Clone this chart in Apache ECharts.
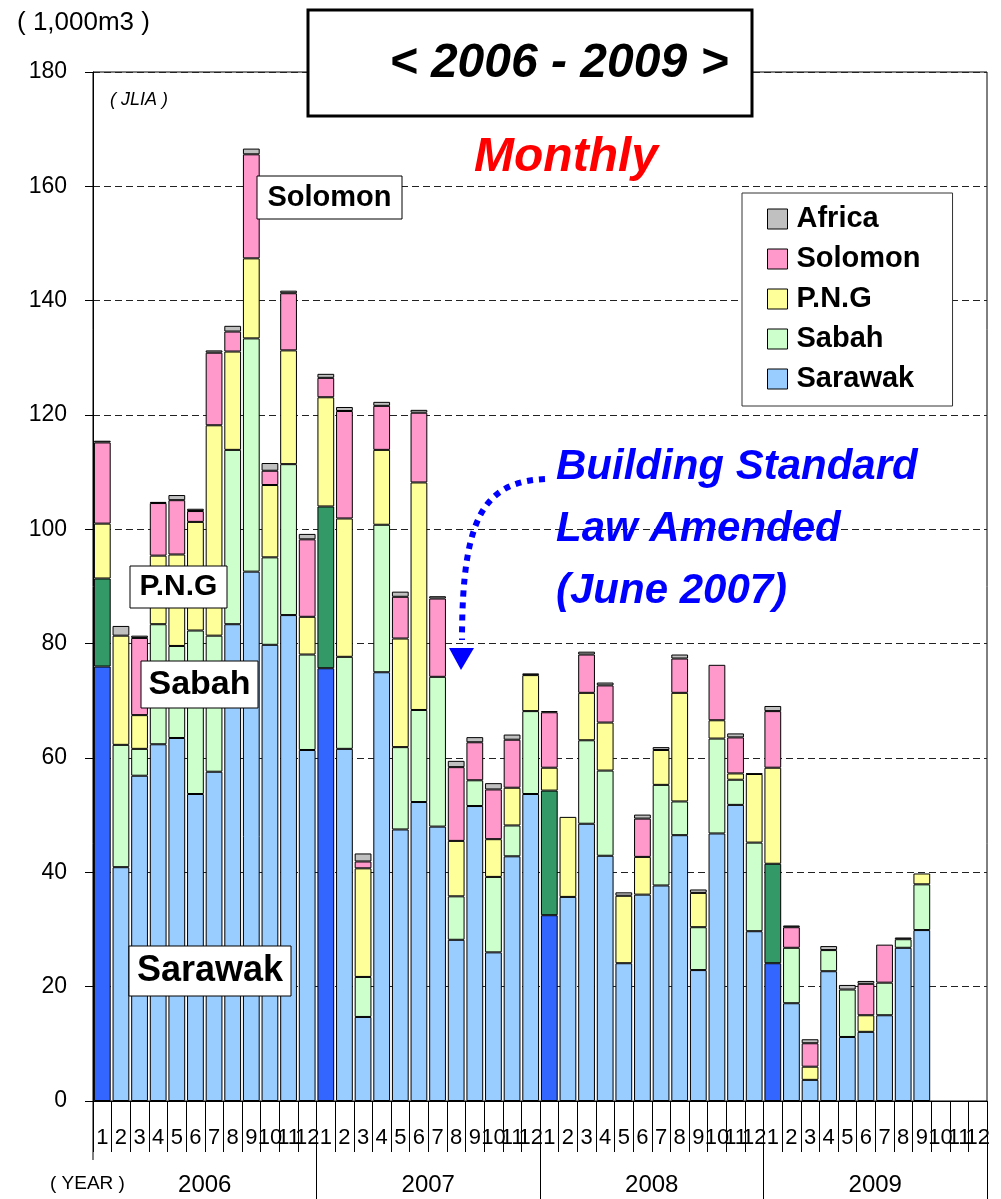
<!DOCTYPE html>
<html>
<head>
<meta charset="utf-8">
<title>Log imports 2006-2009</title>
<script src="https://cdn.jsdelivr.net/npm/echarts@6/dist/echarts.min.js"></script>
<style>
html, body { margin: 0; padding: 0; background: #fff; }
#chart { width: 1001px; height: 1199px; }
</style>
</head>
<body>
<div id="chart"></div>
<script>
// monthly log imports (1,000m3), JLIA
var years = ['2006', '2007', '2008', '2009'];
var monthLabels = ['1', '2', '3', '4', '5', '6', '7', '8', '9', '10', '11', '12'];

var sarawak = [76, 40.9, 56.9, 62.4, 63.5, 53.7, 57.6, 83.4, 92.6, 79.8, 85, 61.4,
    75.7, 61.6, 14.7, 75, 47.5, 52.3, 48, 28.2, 51.6, 26, 42.8, 53.7,
    32.5, 35.7, 48.5, 42.9, 24.1, 36.1, 37.7, 46.5, 22.9, 46.8, 51.8, 29.7,
    24.1, 17.1, 3.7, 22.7, 11.2, 12.1, 15, 26.8, 29.9, null, null, null];
var sabah = [15.4, 21.4, 4.7, 21, 16.1, 28.6, 23.8, 30.5, 40.8, 15.3, 26.4, 16.7,
    28.3, 16.1, 7, 25.8, 14.4, 16.1, 26.2, 7.6, 4.5, 13.2, 5.4, 14.5,
    21.8, 0, 14.6, 14.9, 0, 0, 17.6, 5.9, 7.5, 16.6, 4.4, 15.5,
    17.4, 9.7, 0, 3.7, 8.3, 0, 5.7, 1.5, 8, null, null, null];
var png = [9.6, 19.1, 5.9, 12, 16, 19, 36.8, 17.2, 14, 12.65, 19.9, 6.6,
    19.1, 24.2, 19, 13.1, 19, 39.8, 0, 9.7, 0, 6.6, 6.6, 6.3,
    4, 14, 8.3, 8.4, 11.8, 6.6, 6.1, 19, 6, 3.2, 1.1, 12,
    16.8, 0, 2.3, 0, 0, 2.9, 0, 0, 1.9, null, null, null];
var solomon = [14.2, 0, 13.5, 9.2, 9.5, 1.9, 12.7, 3.5, 18.2, 2.5, 10, 13.55,
    3.4, 18.8, 1.2, 7.7, 7.3, 12.2, 13.7, 12.9, 6.65, 8.7, 8.4, 0,
    9.7, 0, 6.7, 6.5, 0, 6.7, 0, 6, 0, 9.7, 6.3, 0,
    9.9, 3.6, 4.1, 0, 0, 5.5, 6.65, 0, 0, null, null, null];
var africa = [0.3, 1.7, 0.4, 0.2, 0.9, 0.4, 0.4, 1, 1, 1.35, 0.45, 0.95,
    0.7, 0.7, 1.4, 0.7, 0.9, 0.5, 0.4, 1.1, 0.9, 1.1, 0.9, 0.3,
    0.2, 0, 0.5, 0.5, 0.6, 0.7, 0.5, 0.7, 0.6, 0, 0.7, 0.1,
    0.9, 0.3, 0.7, 0.7, 0.8, 0.5, 0, 0.3, 0, null, null, null];

var FONT = "'Liberation Sans', Arial, sans-serif";

// category names like 2006-1, shown as month number only
var categories = [];
years.forEach(function (y) {
    monthLabels.forEach(function (m) { categories.push(y + '-' + m); });
});

// January bars get the darker colours
function buildData(values, janColor) {
    return values.map(function (v, i) {
        var val = (v === 0 || v === null) ? '-' : v;
        if (janColor && i % 12 === 0) {
            return { value: val, itemStyle: { color: janColor } };
        }
        return val;
    });
}

function barSeries(name, values, color, janColor) {
    return {
        name: name,
        type: 'bar',
        stack: 'total',
        xAxisIndex: 0,
        barCategoryGap: '10%',
        data: buildData(values, janColor),
        itemStyle: { color: color, borderColor: '#000', borderWidth: 1 }
    };
}

function labelBox(text, x, y, w, h, size) {
    return {
        type: 'group',
        z: 100,
        children: [
            { type: 'rect', z: 100, shape: { x: x, y: y, width: w, height: h },
              style: { fill: '#fff', stroke: '#000', lineWidth: 1 } },
            { type: 'text', z: 101, x: x + w / 2, y: y + h / 2,
              style: { text: text, fill: '#000', font: 'bold ' + size + 'px ' + FONT,
                       textAlign: 'center', textVerticalAlign: 'middle' } }
        ]
    };
}

var chart = echarts.init(document.getElementById('chart'));

var option = {
    animation: false,
    backgroundColor: '#fff',
    textStyle: { fontFamily: FONT },
    grid: {
        left: 93, right: 14, top: 72, bottom: 98,
        show: true, borderColor: '#000', borderWidth: 1,
        containLabel: false, outerBoundsMode: 'none'
    },
    legend: {
        orient: 'vertical',
        left: 742, top: 193,
        data: ['Africa', 'Solomon', 'P.N.G', 'Sabah', 'Sarawak'],
        backgroundColor: '#fff',
        borderColor: '#333',
        borderWidth: 1,
        padding: [11, 32, 12, 25],
        itemWidth: 20,
        itemHeight: 20,
        itemGap: 10,
        icon: 'rect',
        itemStyle: { borderColor: '#000', borderWidth: 1 },
        textStyle: { fontSize: 29, fontWeight: 'bold', color: '#000', lineHeight: 30,
                     padding: [0, 0, 0, 4], fontFamily: FONT },
        selectedMode: false,
        z: 50
    },
    xAxis: [{
        type: 'category',
        data: categories,
        position: 'bottom',
        axisLine: { lineStyle: { color: '#000', width: 1 } },
        axisTick: { show: true, interval: 0, length: 51, lineStyle: { color: '#000' } },
        axisLabel: {
            interval: 0, margin: 26, fontSize: 22, color: '#000', fontFamily: FONT,
            formatter: function (v) { return v.split('-')[1]; }
        },
        splitLine: { show: false }
    }, {
        type: 'category',
        data: years,
        position: 'bottom',
        axisLine: { lineStyle: { color: '#000', width: 1 } },
        // no long line at the very left edge
        axisTick: { show: true, length: 98, lineStyle: { color: '#000' },
                    interval: function (idx) { return idx !== 0; } },
        axisLabel: { interval: 0, margin: 72, fontSize: 24, color: '#000', fontFamily: FONT },
        splitLine: { show: false }
    }],
    yAxis: {
        type: 'value',
        min: 0, max: 180, interval: 20,
        axisLine: { show: true, lineStyle: { color: '#000', width: 1 } },
        axisTick: { show: true, length: 8, lineStyle: { color: '#000' } },
        axisLabel: { margin: 26, fontSize: 23, color: '#000', fontFamily: FONT },
        splitLine: { show: true, lineStyle: { color: '#222', type: [7, 4], width: 1 } }
    },
    series: [
        barSeries('Sarawak', sarawak, '#99CCFF', '#3366FF'),
        barSeries('Sabah', sabah, '#CCFFCC', '#339966'),
        barSeries('P.N.G', png, '#FFFF99'),
        barSeries('Solomon', solomon, '#FF99CC'),
        barSeries('Africa', africa, '#C0C0C0')
    ],
    graphic: [
        { type: 'text', left: 17, top: 10, z: 100,
          style: { text: '( 1,000m3 )', fill: '#000', font: '26px ' + FONT } },
        { type: 'text', left: 110, top: 91, z: 100,
          style: { text: '( JLIA )', fill: '#000', font: 'italic 18px ' + FONT } },
        { type: 'text', left: 50, top: 1174, z: 100,
          style: { text: '( YEAR )', fill: '#000', font: '19px ' + FONT } },
        { type: 'line', z: 100, shape: { x1: 93, y1: 1101, x2: 93, y2: 1160 },
          style: { stroke: '#000', lineWidth: 1 } },
        // title box
        { type: 'rect', z: 100, shape: { x: 308, y: 10, width: 444, height: 106 },
          style: { fill: '#fff', stroke: '#000', lineWidth: 3 } },
        { type: 'text', z: 101, x: 559, y: 64,
          style: { text: '< 2006 - 2009 >', fill: '#000', font: 'italic bold 48px ' + FONT,
                   textAlign: 'center', textVerticalAlign: 'middle' } },
        { type: 'text', z: 100, x: 566, y: 158,
          style: { text: 'Monthly', fill: '#FF0000', font: 'italic bold 48px ' + FONT,
                   textAlign: 'center', textVerticalAlign: 'middle' } },
        // series labels inside the plot
        labelBox('Solomon', 257, 176, 145, 43, 29),
        labelBox('P.N.G', 130, 566, 97, 42, 30),
        labelBox('Sabah', 141, 661, 117, 47, 34),
        labelBox('Sarawak', 129, 946, 162, 50, 36),
        // law amendment note
        { type: 'text', z: 100, left: 556, top: 436,
          style: { text: 'Building Standard\nLaw Amended\n(June 2007)', fill: '#0000FF',
                   font: 'italic bold 42px ' + FONT, lineHeight: 62 } },
        { type: 'bezierCurve', z: 100,
          shape: { x1: 545, y1: 479, cpx1: 485, cpy1: 482, cpx2: 462, cpy2: 515, x2: 462, y2: 640 },
          style: { stroke: '#0000FF', lineWidth: 6, lineDash: [6, 6], fill: null } },
        { type: 'polygon', z: 100,
          shape: { points: [[449, 648], [474, 648], [461, 670]] },
          style: { fill: '#0000FF' } }
    ]
};

chart.setOption(option);
</script>
</body>
</html>
